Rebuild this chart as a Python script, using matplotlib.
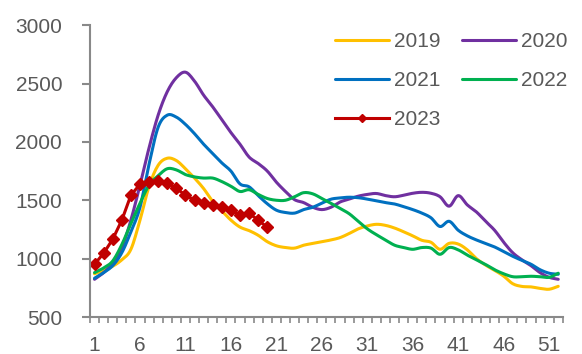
import numpy as np
import matplotlib
matplotlib.use("Agg")
import matplotlib.pyplot as plt
from matplotlib.ticker import MultipleLocator

plt.rcParams['font.family'] = ['Liberation Sans', 'DejaVu Sans']

weeks = np.arange(1, 53)

y2019 = [870, 900, 935, 990, 1080, 1330, 1620, 1800, 1860, 1840,
         1770, 1690, 1600, 1490, 1410, 1330, 1270, 1240, 1200, 1145,
         1110, 1095, 1090, 1115, 1130, 1145, 1160, 1180, 1215, 1255,
         1280, 1294, 1285, 1262, 1230, 1195, 1157, 1140, 1080, 1131,
         1125, 1075, 1000, 945, 900, 850, 785, 762, 758, 745,
         738, 763]
y2020 = [823, 880, 960, 1090, 1330, 1630, 1950, 2230, 2430, 2550,
         2597, 2520, 2400, 2300, 2190, 2080, 1980, 1870, 1815, 1750,
         1655, 1575, 1505, 1480, 1440, 1420, 1440, 1485, 1510, 1535,
         1550, 1558, 1540, 1530, 1543, 1560, 1568, 1560, 1530, 1449,
         1540, 1460, 1400, 1320, 1243, 1140, 1050, 990, 940, 880,
         840, 823]
y2021 = [832, 880, 940, 1050, 1230, 1440, 1810, 2126, 2229, 2212,
         2150, 2070, 1980, 1900, 1820, 1750, 1640, 1615, 1540, 1470,
         1415, 1395, 1390, 1420, 1440, 1475, 1509, 1520, 1526, 1522,
         1510, 1495, 1480, 1468, 1445, 1420, 1390, 1350, 1275, 1320,
         1243, 1195, 1160, 1130, 1100, 1060, 1020, 985, 952, 905,
         875, 866]
y2022 = [880, 920, 980, 1120, 1300, 1474, 1630, 1710, 1770, 1760,
         1720, 1700, 1690, 1690, 1660, 1620, 1575, 1590, 1550, 1515,
         1500, 1500, 1530, 1565, 1555, 1515, 1474, 1430, 1385, 1320,
         1255, 1205, 1160, 1115, 1095, 1080, 1095, 1090, 1037, 1095,
         1075, 1030, 990, 950, 905, 870, 845, 845, 849, 845,
         840, 875]
y2023 = [952, 1046, 1166, 1329, 1543, 1637, 1655, 1663, 1646, 1603,
         1543, 1500, 1474, 1457, 1440, 1414, 1372, 1389, 1329, 1269]

xticks = [1, 6, 11, 16, 21, 26, 31, 36, 41, 46, 51]


def smooth(x, y, n=8):
    # Catmull-Rom pass through every point, like a spreadsheet "smoothed line"
    x = np.asarray(x, float)
    y = np.asarray(y, float)
    px = np.concatenate([[2 * x[0] - x[1]], x, [2 * x[-1] - x[-2]]])
    py = np.concatenate([[2 * y[0] - y[1]], y, [2 * y[-1] - y[-2]]])
    t = np.linspace(0, 1, n, endpoint=False)[:, None]
    out = []
    for p in (px, py):
        p0, p1, p2, p3 = p[:-3], p[1:-2], p[2:-1], p[3:]
        seg = 0.5 * (2 * p1 + (-p0 + p2) * t + (2 * p0 - 5 * p1 + 4 * p2 - p3) * t ** 2
                     + (-p0 + 3 * p1 - 3 * p2 + p3) * t ** 3)
        out.append(np.append(seg.T.ravel(), p[-2]))
    return out[0], out[1]


fig = plt.figure(figsize=(5.82, 3.54), dpi=100)
ax = fig.add_axes([0.1546, 0.1045, 0.967 - 0.1546, 0.929 - 0.1045])

lw = 2.2
series = [('2019', y2019, '#FFC000'), ('2020', y2020, '#7030A0'),
          ('2021', y2021, '#0070C0'), ('2022', y2022, '#00B050')]
handles = {}
for name, vals, col in series:
    sx, sy = smooth(weeks, vals)
    handles[name], = ax.plot(sx, sy, color=col, lw=lw, label=name,
                             solid_capstyle='round')
handles['2023'], = ax.plot(weeks[:len(y2023)], y2023, color='#C00000', lw=lw,
                           marker='D', markersize=6.5, label='2023')

ax.set_xlim(0.5, 52.5)
ax.set_ylim(500, 3000)
ax.set_yticks([500, 1000, 1500, 2000, 2500, 3000])
ax.set_xticks(xticks)
ax.xaxis.set_minor_locator(MultipleLocator(1, offset=0.5))

grey = '#898989'
for side in ['top', 'right']:
    ax.spines[side].set_visible(False)
for side in ['left', 'bottom']:
    ax.spines[side].set_color(grey)
    ax.spines[side].set_linewidth(1.5)

ax.tick_params(axis='y', direction='out', length=6, width=1.5, color=grey,
               labelsize=15, labelcolor='#595959', pad=14)
ax.tick_params(axis='x', which='major', length=0, labelsize=15,
               labelcolor='#595959', pad=14)
ax.tick_params(axis='x', which='minor', direction='out', length=4,
               width=1.2, color=grey)

order = ['2019', '2021', '2023', '2020', '2022']
leg = ax.legend([handles[k] for k in order], order, ncol=2, loc='upper right',
                bbox_to_anchor=(1.05, 1.04), frameon=False, fontsize=15,
                handlelength=2.6, handletextpad=0.25, columnspacing=1.0,
                labelspacing=0.95, markerscale=0.7)
for t in leg.get_texts():
    t.set_color('#595959')

fig.savefig('out.png', dpi=100)
